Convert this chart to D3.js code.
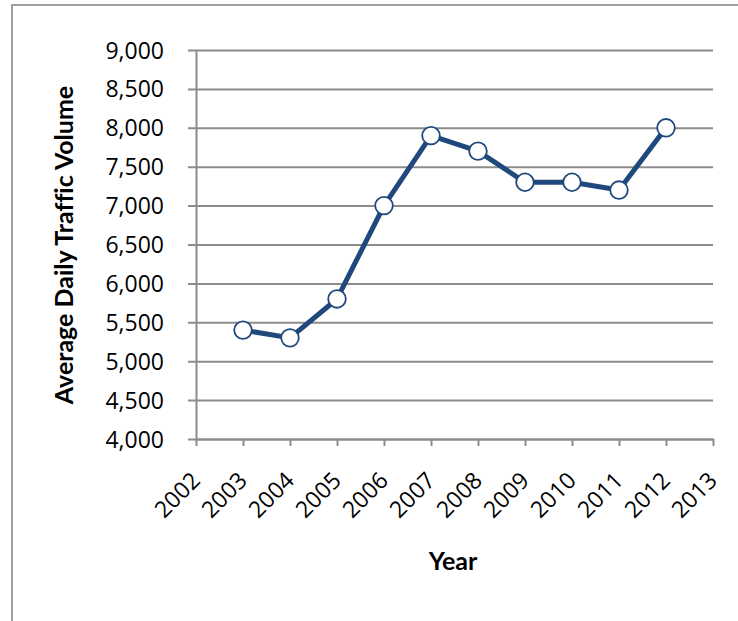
<!DOCTYPE html>
<html>
<head>
<meta charset="utf-8">
<script src="https://cdn.jsdelivr.net/npm/d3@7"></script>
<style>
  html, body { margin: 0; padding: 0; background: #fff; }
  svg { display: block; }
  text { font-variant-ligatures: none; }
</style>
</head>
<body>
<svg id="chart" width="738" height="621"></svg>
<script>
// Average daily traffic volume by year
const years = [2003, 2004, 2005, 2006, 2007, 2008, 2009, 2010, 2011, 2012];
const volumes = [5400, 5300, 5800, 7000, 7900, 7700, 7300, 7300, 7200, 8000];
const xTicks = [2002, 2003, 2004, 2005, 2006, 2007, 2008, 2009, 2010, 2011, 2012, 2013];
const yTicks = [4000, 4500, 5000, 5500, 6000, 6500, 7000, 7500, 8000, 8500, 9000];

const svg = d3.select("#chart");
const tickFont = "'Open Sans', 'Noto Sans', sans-serif";
const titleFont = "Lato, 'Open Sans', sans-serif";
const gridColor = "#8c8c8c";
const lineColor = "#1f497d";

// Outer frame (continues past the right and bottom edges)
svg.append("rect")
  .attr("x", 12).attr("y", 5)
  .attr("width", 800).attr("height", 700)
  .attr("fill", "none")
  .attr("stroke", "#a0a0a0")
  .attr("stroke-width", 2);

const plot = { left: 196, right: 713, top: 50, bottom: 439 };

const x = d3.scaleLinear().domain([2002, 2013]).range([plot.left, plot.right]);
const y = d3.scaleLinear().domain([4000, 9000]).range([plot.bottom, plot.top]);

// Horizontal gridlines with outward ticks
const yAxis = d3.axisLeft(y)
  .tickValues(yTicks)
  .tickSize(-(plot.right - plot.left))
  .tickSizeOuter(0)
  .tickFormat(d3.format(","));
const gy = svg.append("g")
  .attr("transform", `translate(${plot.left},0)`)
  .call(yAxis);
gy.select(".domain").attr("stroke", gridColor).attr("stroke-width", 2);
gy.selectAll(".tick line")
  .attr("x1", -8)
  .attr("stroke", gridColor)
  .attr("stroke-width", 2);
gy.selectAll(".tick text")
  .attr("x", -32)
  .attr("dy", "0.35em")
  .attr("fill", "#000")
  .style("font-family", tickFont)
  .style("font-size", "23px");

// Bottom axis with rotated year labels
const xAxis = d3.axisBottom(x)
  .tickValues(xTicks)
  .tickSize(7)
  .tickSizeOuter(0)
  .tickFormat(d3.format("d"));
const gx = svg.append("g")
  .attr("transform", `translate(0,${plot.bottom})`)
  .call(xAxis);
gx.select(".domain").attr("stroke", gridColor).attr("stroke-width", 2);
gx.selectAll(".tick line").attr("stroke", gridColor).attr("stroke-width", 2);
gx.selectAll(".tick text")
  .attr("y", 0).attr("dy", 0)
  .attr("transform", "translate(5,43) rotate(-45)")
  .attr("text-anchor", "end")
  .attr("fill", "#000")
  .style("font-family", tickFont)
  .style("font-size", "23px");

// Series line
const pts = years.map((yr, i) => ({ year: yr, value: volumes[i] }));
svg.append("path")
  .datum(pts)
  .attr("fill", "none")
  .attr("stroke", lineColor)
  .attr("stroke-width", 5)
  .attr("stroke-linejoin", "round")
  .attr("d", d3.line().x(d => x(d.year)).y(d => y(d.value)));

// Markers
svg.selectAll("circle.pt")
  .data(pts)
  .join("circle")
  .attr("class", "pt")
  .attr("cx", d => x(d.year))
  .attr("cy", d => y(d.value))
  .attr("r", 8.8)
  .attr("fill", "#fff")
  .attr("stroke", lineColor)
  .attr("stroke-width", 1.8);

// Axis titles
svg.append("text")
  .attr("transform", "translate(73,245) rotate(-90)")
  .attr("text-anchor", "middle")
  .style("font-family", titleFont)
  .style("font-weight", "bold")
  .style("font-size", "25px")
  .text("Average Daily Traffic Volume");

svg.append("text")
  .attr("x", 453).attr("y", 570)
  .attr("text-anchor", "middle")
  .style("font-family", titleFont)
  .style("font-weight", "bold")
  .style("font-size", "25px")
  .text("Year");
</script>
</body>
</html>
